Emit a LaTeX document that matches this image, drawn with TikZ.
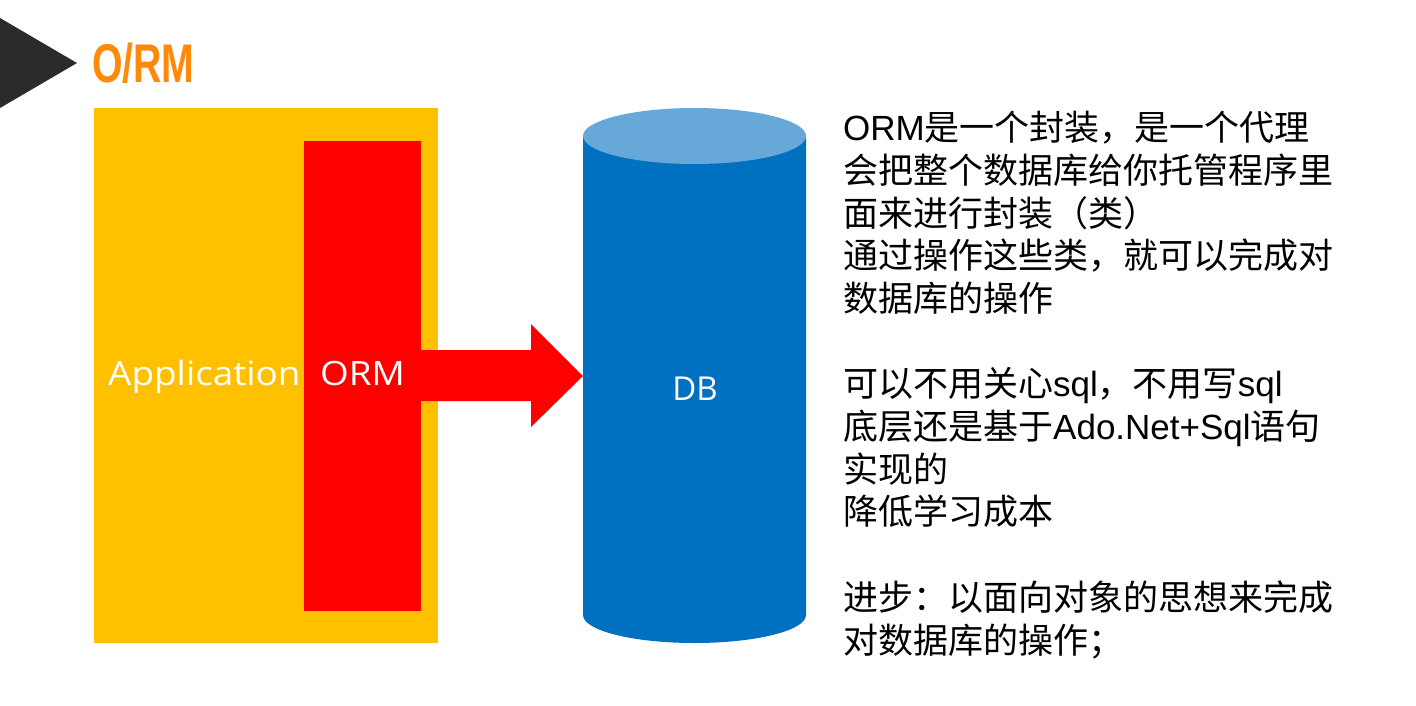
\documentclass[tikz,border=0pt]{standalone}
\usepackage{fontspec}
\setmainfont{Liberation Sans}
\newfontfamily\cjk{Noto Sans CJK SC}
\newfontfamily\ui{Open Sans}
\newfontfamily\lat{Liberation Sans}
\usetikzlibrary{calc}
\definecolor{tridark}{HTML}{2B2B2B}
\definecolor{titleorange}{HTML}{FF8A0A}
\definecolor{appyellow}{HTML}{FFC000}
\definecolor{ormred}{HTML}{FF0000}
\definecolor{dbblue}{HTML}{0070C0}
\definecolor{dbtop}{HTML}{66A8D8}
\newcommand{\widelbl}[1]{\scalebox{1.1}[1]{#1}}
\tikzset{
  box/.style={anchor=north west, inner sep=0, outer sep=0},
  whitelabel/.style={anchor=base west, text=white, inner sep=0, font=\ui\fontsize{33.5}{38}\selectfont},
  bodytext/.style={anchor=base west, inner sep=0, text=black, font=\cjk\fontsize{35}{42.7}\selectfont}
}
\begin{document}
\begin{tikzpicture}[x=1pt,y=-1pt]
\useasboundingbox[fill=white] (0,0) rectangle (1416,705);
% marker triangle
\fill[tridark] (0,18) -- (77,63) -- (0,108) -- cycle;
% title
\node[anchor=base west, inner sep=0, text=titleorange, font=\bfseries\fontsize{54.5}{60}\selectfont] (title) at (92,82) {\scalebox{0.72}[1]{O/RM}};
% application and ORM blocks
\node[box, fill=appyellow, minimum width=344pt, minimum height=535pt] (app) at (94,108) {};
\node[box, fill=ormred, minimum width=117pt, minimum height=470pt] (orm) at (304,141) {};
\node[whitelabel] (applbl) at (108,385) {\widelbl{Application}};
\node[whitelabel] (ormlbl) at (320,385) {\widelbl{ORM}};
% DB cylinder
\fill[dbblue] (583,136) -- (583,615) arc[start angle=180, end angle=360, x radius=111.5, y radius=-28] -- (806,136) -- cycle;
\fill[dbtop] (694.5,136) ellipse[x radius=111.5, y radius=28];
\coordinate (dbwest) at (583,376);
\node[anchor=base, text=white, inner sep=0, font=\ui\fontsize{33}{38}\selectfont] (db) at (695,400) {DB};
% arrow from ORM to DB
\fill[ormred] ($(orm.east)+(0,-26)$) -- ($(orm.east)+(110,-26)$) -- ($(orm.east)+(110,-52)$)
  -- (dbwest) -- ($(orm.east)+(110,51)$) -- ($(orm.east)+(110,25)$) -- ($(orm.east)+(0,25)$) -- cycle;
% description text
\node[bodytext] (t1a) at (843,140) {{\lat ORM}是一个封装，是一个代理};
\node[bodytext] (t1b) at (843,183) {会把整个数据库给你托管程序里};
\node[bodytext] (t1c) at (843,226) {面来进行封装（类）};
\node[bodytext] (t1d) at (843,268) {通过操作这些类，就可以完成对};
\node[bodytext] (t1e) at (843,311) {数据库的操作};
\node[bodytext] (t2a) at (843,396) {可以不用关心{\lat sql}，不用写{\lat sql}};
\node[bodytext] (t2b) at (843,439) {底层还是基于{\lat Ado.Net+Sql}语句};
\node[bodytext] (t2c) at (843,482) {实现的};
\node[bodytext] (t2d) at (843,524) {降低学习成本};
\node[bodytext] (t3a) at (843,610) {进步：以面向对象的思想来完成};
\node[bodytext] (t3b) at (843,653) {对数据库的操作；};
\end{tikzpicture}
\end{document}
